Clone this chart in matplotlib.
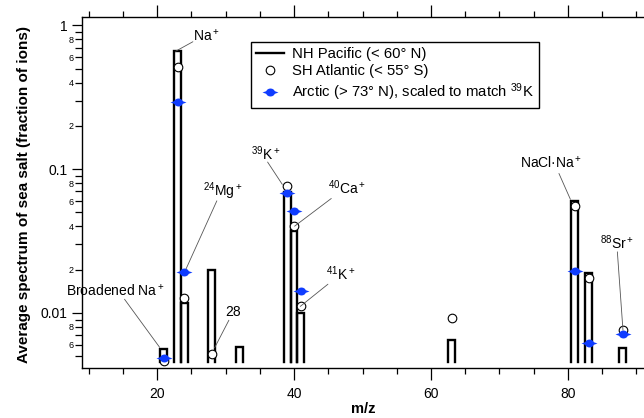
import numpy as np
import matplotlib
matplotlib.use("Agg")
import matplotlib.pyplot as plt
from matplotlib.lines import Line2D
from matplotlib.path import Path
from matplotlib.ticker import LogLocator, FuncFormatter, MultipleLocator

plt.rcParams['font.family'] = ['Liberation Sans', 'DejaVu Sans']
plt.rcParams['mathtext.fontset'] = 'custom'
plt.rcParams['mathtext.rm'] = 'Liberation Sans'
plt.rcParams['mathtext.it'] = 'Liberation Sans:italic'
plt.rcParams['mathtext.bf'] = 'Liberation Sans:bold'
plt.rcParams['mathtext.default'] = 'regular'

# ---------------- data ----------------
mz = [21, 23, 24, 28, 32, 39, 40, 41, 63, 81, 83, 88]
nh_pacific = [0.0056, 0.66, 0.0118, 0.0198, 0.0058, 0.0690, 0.0372, 0.0100,
              0.00645, 0.0599, 0.0190, 0.00574]
sh_mz = [21, 23, 24, 28, 39, 40, 41, 63, 81, 83, 88]
sh_atlantic = [0.00466, 0.51, 0.0127, 0.0052, 0.0760, 0.0401, 0.0111, 0.0092,
               0.0553, 0.0176, 0.00758]
arctic_mz = [21, 23, 24, 39, 40, 41, 81, 83, 88]
arctic = [0.00486, 0.293, 0.0193, 0.0684, 0.051, 0.0142, 0.0195, 0.0062, 0.0071]

legend_labels = ["NH Pacific (< 60° N)", "SH Atlantic (< 55° S)",
                 "Arctic (> 73° N), scaled to match $^{39}$K"]

bar_base = 0.00456
blue = '#0f3cff'

fig = plt.figure(figsize=(6.44, 4.18), dpi=100)
ax = fig.add_axes([0.1269, 0.1189, 0.8731, 0.8411])
ax.set_yscale('log')
ax.set_xlim(9, 91.1)
ax.set_ylim(0.00412, 1.148)

# bars as open outlines (no bottom edge)
for x, h in zip(mz, nh_pacific):
    ax.plot([x - 0.5, x - 0.5, x + 0.5, x + 0.5], [bar_base, h, h, bar_base],
            color='black', lw=1.7, solid_joinstyle='miter', zorder=2)

ax.plot(sh_mz, sh_atlantic, ls='none', marker='o', ms=6.2, mfc='white',
        mec='black', mew=0.8, zorder=3)

# Arctic marker: horizontally elongated blob
verts = [(-1.0, 0.0), (-0.55, 0.16), (-0.4, 0.36), (-0.2, 0.47), (0.0, 0.5),
         (0.2, 0.47), (0.4, 0.36), (0.55, 0.16), (1.0, 0.0),
         (0.55, -0.16), (0.4, -0.36), (0.2, -0.47), (0.0, -0.5),
         (-0.2, -0.47), (-0.4, -0.36), (-0.55, -0.16), (-1.0, 0.0)]
blue_marker = Path(verts, closed=True)
ax.plot(arctic_mz, arctic, ls='none', marker=blue_marker, ms=11.5,
        color=blue, mec=blue, mew=0, zorder=4)

# ---------------- axes styling ----------------
ax.spines['right'].set_visible(False)
for s in ['left', 'top', 'bottom']:
    ax.spines[s].set_linewidth(1.0)

ax.xaxis.set_major_locator(MultipleLocator(20))
ax.xaxis.set_minor_locator(MultipleLocator(5))
ax.tick_params(axis='x', which='both', direction='out', top=True, bottom=True,
               labeltop=False, labelsize=10, width=0.9)
ax.tick_params(axis='x', which='major', length=8.5, pad=5)
ax.tick_params(axis='x', which='minor', length=4.2)

ax.yaxis.set_major_locator(LogLocator(base=10, subs=(1.0,)))
ax.yaxis.set_minor_locator(LogLocator(base=10, subs=np.arange(2, 10)))
ax.yaxis.set_major_formatter(FuncFormatter(lambda v, p: f"{v:g}"))


def minor_fmt(v, p):
    m = v / 10 ** np.floor(np.log10(v) + 1e-9)
    mi = int(round(m))
    return str(mi) if mi in (2, 4, 6, 8) else ""


ax.yaxis.set_minor_formatter(FuncFormatter(minor_fmt))
ax.tick_params(axis='y', which='both', direction='out', right=False, width=0.9)
ax.tick_params(axis='y', which='major', length=7, labelsize=10, pad=3)
ax.tick_params(axis='y', which='minor', length=4.8, labelsize=6.5, pad=1)

ax.set_xlabel('m/z', fontsize=10.5, fontweight='bold', labelpad=1)
ax.set_ylabel('Average spectrum of sea salt (fraction of ions)', fontsize=11,
              fontweight='bold')
ax.yaxis.set_label_coords(-0.09, 0.495)

# ---------------- legend ----------------
handles = [Line2D([], [], color='black', lw=1.7),
           Line2D([], [], ls='none', marker='o', ms=6.2, mfc='white',
                  mec='black', mew=0.8),
           Line2D([], [], ls='none', marker=blue_marker, ms=11.5, color=blue,
                  mew=0)]
leg = ax.legend(handles, legend_labels, loc='upper left',
                bbox_to_anchor=(0.301, 0.929), borderaxespad=0,
                fontsize=10.7, frameon=True, fancybox=False, framealpha=1,
                edgecolor='black', handlelength=1.9, handletextpad=0.5,
                borderpad=0.35, labelspacing=0.22)
leg.get_frame().set_linewidth(1.0)

# ---------------- annotations ----------------
lead = dict(arrowstyle='-', color='#555555', lw=0.6, shrinkA=0, shrinkB=0)
annots = [
    # text, text pos, leader start, leader end
    ("Na$^+$", (25.19, 0.778), (25.23, 0.769), (22.7, nh_pacific[1])),
    ("$^{24}$Mg$^+$", (26.69, 0.0652), (28.73, 0.0602), (24.24, arctic[2] * 1.05)),
    ("28", (30.0, 0.00953), (30.49, 0.0089), (28.40, sh_atlantic[3] * 1.1)),
    ("Broadened Na$^+$", (6.74, 0.01328), (15.25, 0.01245), (20.37, nh_pacific[0] * 1.03)),
    ("$^{39}$K$^+$", (33.76, 0.1155), (36.14, 0.112), (38.29, sh_atlantic[4] * 1.03)),
    ("$^{40}$Ca$^+$", (44.95, 0.0667), (45.44, 0.0625), (40.08, sh_atlantic[5])),
    ("$^{41}$K$^+$", (44.71, 0.01689), (44.95, 0.01584), (40.91, sh_atlantic[6])),
    ("NaCl·Na$^+$", (72.94, 0.102), (78.68, 0.0933), (80.35, nh_pacific[9] * 1.03)),
    ("$^{88}$Sr$^+$", (84.63, 0.0277), (87.21, 0.0266), (88.03, sh_atlantic[10])),
]
for txt, tpos, p0, p1 in annots:
    ax.annotate('', xy=p1, xytext=p0, arrowprops=lead, annotation_clip=False,
                zorder=5)
    ax.text(tpos[0], tpos[1], txt, fontsize=10, ha='left', va='baseline',
            zorder=6)

fig.savefig('out.png', dpi=100)
